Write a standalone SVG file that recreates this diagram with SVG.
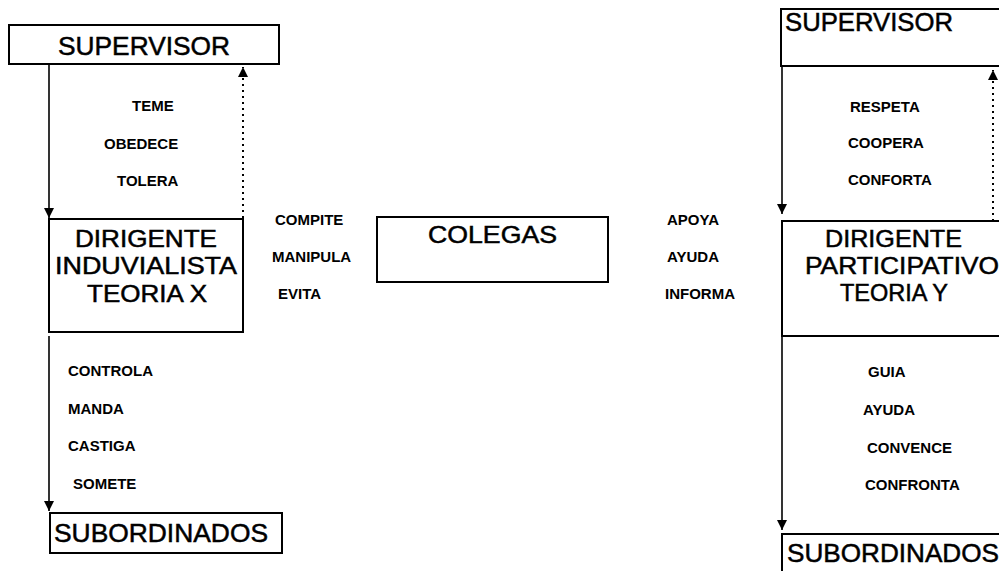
<svg xmlns="http://www.w3.org/2000/svg" width="999" height="571" viewBox="0 0 999 571">
<defs>
<style>
.box{fill:#fff;stroke:#000;stroke-width:2}
.big{font-family:"Liberation Sans",Arial,sans-serif;font-size:26px;fill:#000;stroke:#000;stroke-width:0.5}
.mid{font-family:"Liberation Sans",Arial,sans-serif;font-size:24px;fill:#000;stroke:#000;stroke-width:0.5}
.lbl{font-family:"Liberation Sans",Arial,sans-serif;font-size:15px;font-weight:bold;fill:#000}
.ln{fill:none;stroke:#000;stroke-width:1.6}
.dot{fill:none;stroke:#000;stroke-width:2;stroke-dasharray:2 4}
</style>
<marker id="ah" markerUnits="userSpaceOnUse" markerWidth="10" markerHeight="10" refX="10" refY="5" orient="auto">
<path d="M0,0 L10,5 L0,10 z" fill="#000"/>
</marker>
</defs>
<rect width="999" height="571" fill="#fff"/>

<g id="connectors">
<line class="ln" x1="49" y1="64" x2="49" y2="218" marker-end="url(#ah)"/>
<line class="dot" x1="243" y1="218" x2="243" y2="67" marker-end="url(#ah)"/>
<line class="ln" x1="49" y1="336" x2="49" y2="511" marker-end="url(#ah)"/>
<line class="ln" x1="782" y1="66" x2="782" y2="214" marker-end="url(#ah)"/>
<line class="dot" x1="993" y1="221" x2="993" y2="70" marker-end="url(#ah)"/>
<line class="ln" x1="782" y1="336" x2="782" y2="530" marker-end="url(#ah)"/>
</g>

<g id="labels">
<text class="lbl" x="132" y="111">TEME</text>
<text class="lbl" x="104" y="149">OBEDECE</text>
<text class="lbl" x="117" y="186">TOLERA</text>
<text class="lbl" x="68" y="376">CONTROLA</text>
<text class="lbl" x="68" y="414">MANDA</text>
<text class="lbl" x="68" y="451">CASTIGA</text>
<text class="lbl" x="73" y="489">SOMETE</text>
<text class="lbl" x="275" y="225">COMPITE</text>
<text class="lbl" x="272" y="262">MANIPULA</text>
<text class="lbl" x="278" y="299">EVITA</text>
<text class="lbl" x="667" y="225">APOYA</text>
<text class="lbl" x="667" y="262">AYUDA</text>
<text class="lbl" x="665" y="299">INFORMA</text>
<text class="lbl" x="850" y="112">RESPETA</text>
<text class="lbl" x="848" y="148">COOPERA</text>
<text class="lbl" x="848" y="185">CONFORTA</text>
<text class="lbl" x="868" y="377">GUIA</text>
<text class="lbl" x="863" y="415">AYUDA</text>
<text class="lbl" x="867" y="453">CONVENCE</text>
<text class="lbl" x="865" y="490">CONFRONTA</text>
</g>

<g id="supervisor-x">
<rect class="box" x="9" y="25" width="270" height="39"/>
<text class="big" x="58" y="55" textLength="172" lengthAdjust="spacingAndGlyphs">SUPERVISOR</text>
</g>

<g id="dirigente-x">
<rect class="box" x="49" y="219" width="194" height="113"/>
<text class="mid" x="75" y="247" textLength="142" lengthAdjust="spacingAndGlyphs">DIRIGENTE</text>
<text class="mid" x="55" y="274" textLength="182" lengthAdjust="spacingAndGlyphs">INDUVIALISTA</text>
<text class="mid" x="87" y="302" textLength="120" lengthAdjust="spacingAndGlyphs">TEORIA X</text>
</g>

<g id="subordinados-x">
<rect class="box" x="50" y="513" width="232" height="40"/>
<text class="big" x="54" y="542" textLength="214" lengthAdjust="spacingAndGlyphs">SUBORDINADOS</text>
</g>

<g id="colegas">
<rect class="box" x="377" y="217" width="231" height="65"/>
<text class="mid" x="428" y="243" textLength="129" lengthAdjust="spacingAndGlyphs">COLEGAS</text>
</g>

<g id="supervisor-y">
<rect class="box" x="781" y="9" width="230" height="57"/>
<text class="big" x="785" y="31" textLength="168" lengthAdjust="spacingAndGlyphs">SUPERVISOR</text>
</g>

<g id="dirigente-y">
<rect class="box" x="782" y="221" width="230" height="115"/>
<text class="mid" x="825" y="247" textLength="137" lengthAdjust="spacingAndGlyphs">DIRIGENTE</text>
<text class="mid" x="805" y="274" textLength="194" lengthAdjust="spacingAndGlyphs">PARTICIPATIVO</text>
<text class="mid" x="840" y="301" textLength="108" lengthAdjust="spacingAndGlyphs">TEORIA Y</text>
</g>

<g id="subordinados-y">
<rect class="box" x="782" y="534" width="230" height="50"/>
<text class="big" x="787" y="562" textLength="212" lengthAdjust="spacingAndGlyphs">SUBORDINADOS</text>
</g>
</svg>
